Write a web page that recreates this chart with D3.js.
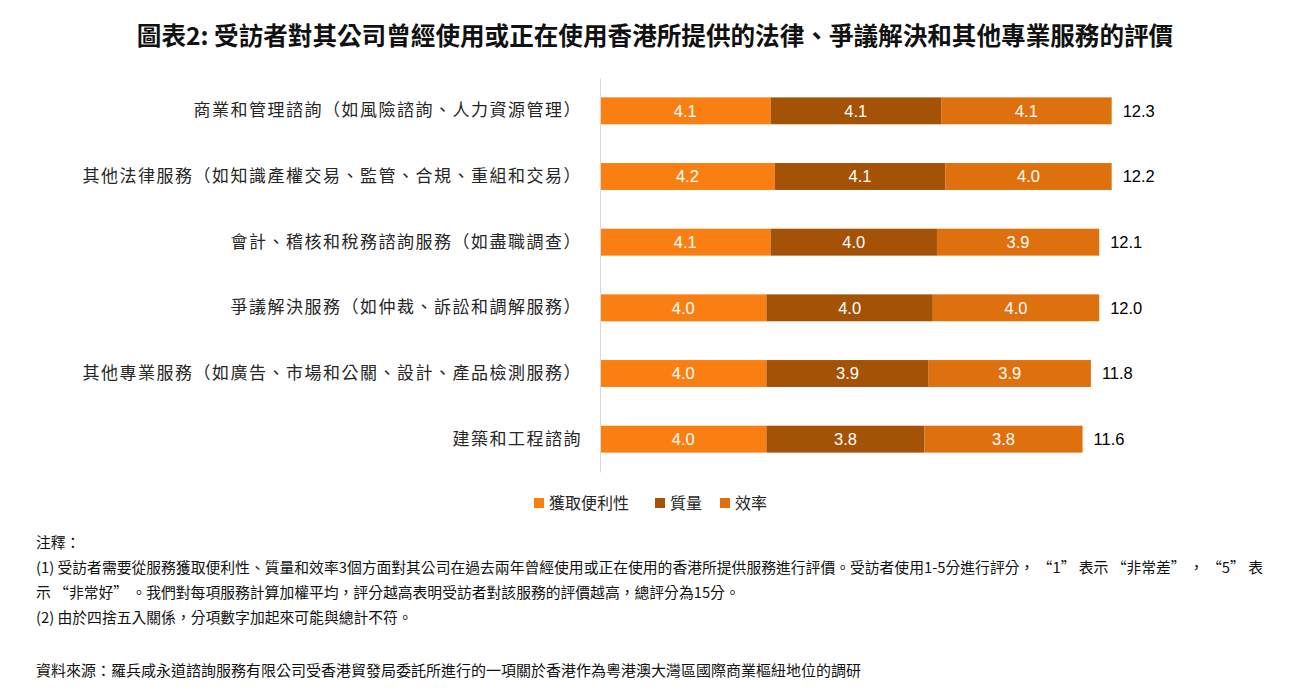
<!DOCTYPE html>
<html>
<head>
  <meta charset="utf-8">
  <script src="https://d3js.org/d3.v7.min.js"></script>
  <style>
    body { margin: 0; background: #fff; }
    text { font-family: "Liberation Sans", "Noto Sans CJK TC", sans-serif; }
    .cjk { font-family: "Noto Sans CJK TC", sans-serif; }
  </style>
</head>
<body>
  <div id="chart_div"></div>

  <script>
    // data
    var categories = [
      "商業和管理諮詢（如風險諮詢、人力資源管理）",
      "其他法律服務（如知識產權交易、監管、合規、重組和交易）",
      "會計、稽核和稅務諮詢服務（如盡職調查）",
      "爭議解決服務（如仲裁、訴訟和調解服務）",
      "其他專業服務（如廣告、市場和公關、設計、產品檢測服務）",
      "建築和工程諮詢"
    ];
    var seriesNames = ["獲取便利性", "質量", "效率"];
    var convenience = [4.1, 4.2, 4.1, 4.0, 4.0, 4.0];
    var quality     = [4.1, 4.1, 4.0, 4.0, 3.9, 3.8];
    var efficiency  = [4.1, 4.0, 3.9, 4.0, 3.9, 3.8];
    var totals      = [12.3, 12.2, 12.1, 12.0, 11.8, 11.6];
    var colors = ["#FA7F12", "#A45205", "#DF700E"];

    var title = "圖表2: 受訪者對其公司曾經使用或正在使用香港所提供的法律、爭議解決和其他專業服務的評價";
    var notes = [
      "注釋：",
      "(1) 受訪者需要從服務獲取便利性、質量和效率3個方面對其公司在過去兩年曾經使用或正在使用的香港所提供服務進行評價。受訪者使用1-5分進行評分， “1” 表示 “非常差” ， “5” 表",
      "示 “非常好” 。我們對每項服務計算加權平均，評分越高表明受訪者對該服務的評價越高，總評分為15分。",
      "(2) 由於四捨五入關係，分項數字加起來可能與總計不符。"
    ];
    var source = "資料來源：羅兵咸永道諮詢服務有限公司受香港貿發局委託所進行的一項關於香港作為粵港澳大灣區國際商業樞紐地位的調研";

    var W = 1300, H = 693;
    var svg = d3.select("#chart_div").append("svg")
      .attr("width", W).attr("height", H);

    // title
    svg.append("text")
      .attr("class", "cjk")
      .attr("x", 655).attr("y", 45)
      .attr("text-anchor", "middle")
      .style("font-size", "24.6px")
      .style("font-weight", "bold")
      .style("fill", "#111")
      .text(title);

    var x0 = 600;
    var x = d3.scaleLinear().domain([0, 1]).range([x0, x0 + 41.6]);
    var y = d3.scaleBand().domain(d3.range(categories.length))
      .range([78, 472]).paddingInner(0.59).paddingOuter(0.295);

    var rows = categories.map(function(c, i) {
      return { cat: c, vals: [convenience[i], quality[i], efficiency[i]], total: totals[i] };
    });

    // stacked segments
    var stack = d3.stack().keys([0, 1, 2]).value(function(d, k) { return d.vals[k]; });
    var layers = stack(rows);

    var layer = svg.selectAll(".layer").data(layers).enter().append("g")
      .attr("class", "layer")
      .attr("fill", function(d, i) { return colors[i]; });

    layer.selectAll("rect").data(function(d) { return d; }).enter().append("rect")
      .attr("x", function(d) { return x(d[0]); })
      .attr("width", function(d) { return x(d[1]) - x(d[0]); })
      .attr("y", function(d, i) { return y(i); })
      .attr("height", y.bandwidth());

    layer.selectAll("text").data(function(d) { return d; }).enter().append("text")
      .attr("x", function(d) { return (x(d[0]) + x(d[1])) / 2; })
      .attr("y", function(d, i) { return y(i) + y.bandwidth() / 2; })
      .attr("dy", "0.36em")
      .attr("text-anchor", "middle")
      .style("font-size", "16.5px")
      .style("fill", "#fff")
      .text(function(d) { return (d[1] - d[0]).toFixed(1); });

    // totals
    svg.selectAll(".total").data(rows).enter().append("text")
      .attr("class", "total")
      .attr("x", function(d) { return x(d3.sum(d.vals)) + 11; })
      .attr("y", function(d, i) { return y(i) + y.bandwidth() / 2; })
      .attr("dy", "0.36em")
      .style("font-size", "16.5px")
      .style("fill", "#000")
      .text(function(d) { return d.total.toFixed(1); });

    // category axis
    var yAxis = svg.append("g")
      .attr("transform", "translate(" + x0 + ",0)")
      .call(d3.axisLeft(y).tickSize(0).tickPadding(18).tickFormat(function(i) { return categories[i]; }));
    yAxis.select(".domain").attr("stroke", "#d9d9d9");
    yAxis.selectAll("text")
      .attr("class", "cjk")
      .style("font-size", "17px")
      .style("letter-spacing", "1.5px")
      .style("fill", "#262626");

    // legend
    var legendX = [534, 655, 720];
    var lg = svg.selectAll(".lg").data(seriesNames).enter().append("g")
      .attr("class", "lg")
      .attr("transform", function(d, i) { return "translate(" + legendX[i] + ",503)"; });
    lg.append("rect").attr("x", 0).attr("y", -5).attr("width", 10).attr("height", 10)
      .attr("fill", function(d, i) { return colors[i]; });
    lg.append("text").attr("class", "cjk")
      .attr("x", 15).attr("dy", "0.36em")
      .style("font-size", "16px").style("fill", "#262626")
      .text(function(d) { return d; });

    // notes
    var noteY = [543, 568, 593, 618];
    svg.selectAll(".note").data(notes).enter().append("text")
      .attr("class", "note cjk")
      .attr("x", 36)
      .attr("y", function(d, i) { return noteY[i]; })
      .attr("dy", "0.36em")
      .style("font-size", "14.8px")
      .style("fill", "#111")
      .text(function(d) { return d; });

    svg.append("text")
      .attr("class", "cjk")
      .attr("x", 36).attr("y", 671).attr("dy", "0.36em")
      .style("font-size", "15px")
      .style("fill", "#111")
      .text(source);
  </script>
</body>
</html>
